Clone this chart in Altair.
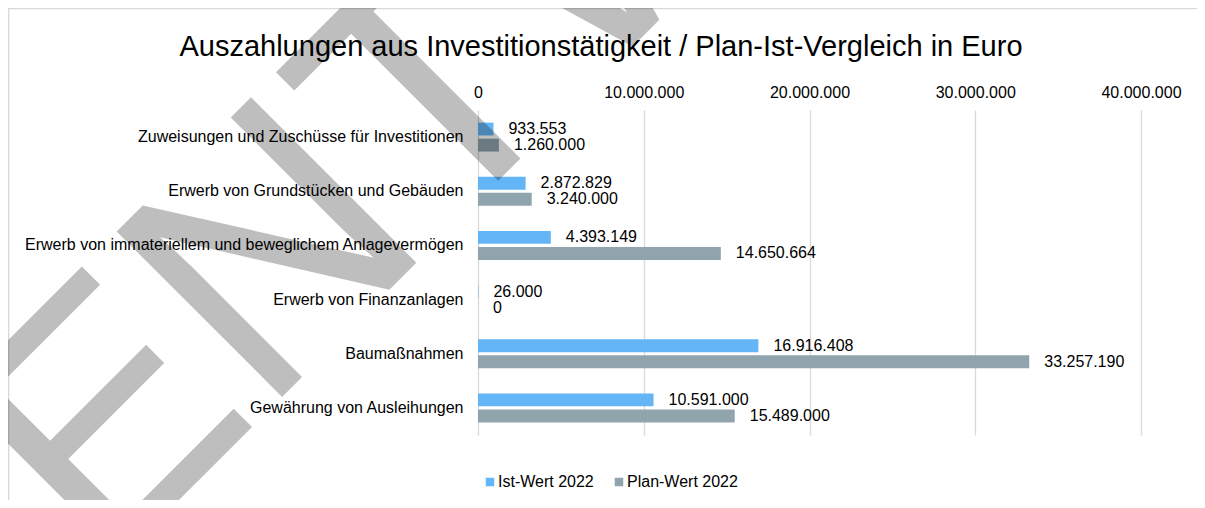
import altair as alt
import pandas as pd

categories = [
    "Zuweisungen und Zuschüsse für Investitionen",
    "Erwerb von Grundstücken und Gebäuden",
    "Erwerb von immateriellem und beweglichem Anlagevermögen",
    "Erwerb von Finanzanlagen",
    "Baumaßnahmen",
    "Gewährung von Ausleihungen",
]
series = ["Ist-Wert 2022", "Plan-Wert 2022"]
ist_values = [933553, 2872829, 4393149, 26000, 16916408, 10591000]
plan_values = [1260000, 3240000, 14650664, 0, 33257190, 15489000]
x_ticks = [0, 10000000, 20000000, 30000000, 40000000]
colors = ["#64b5f6", "#90a4ae"]
title_text = "Auszahlungen aus Investitionstätigkeit / Plan-Ist-Vergleich in Euro"
watermark_text = "ENTWURF"


def de_format(v):
    return f"{v:,}".replace(",", ".")


rows = []
for cat, iv, pv in zip(categories, ist_values, plan_values):
    rows.append({"Kategorie": cat, "Serie": series[0], "Wert": iv, "Label": de_format(iv)})
    rows.append({"Kategorie": cat, "Serie": series[1], "Wert": pv, "Label": de_format(pv)})
df = pd.DataFrame(rows)

FONT = "Liberation Sans"

y_enc = alt.Y(
    "Kategorie:N",
    sort=categories,
    scale=alt.Scale(paddingInner=0.465, paddingOuter=0.2325),
    axis=alt.Axis(
        title=None, domain=False, ticks=False, labelPadding=15,
        labelFontSize=16, labelFont=FONT, labelColor="#000000", labelLimit=600,
    ),
)
yoff_enc = alt.YOffset("Serie:N", sort=series, scale=alt.Scale(paddingInner=0.2, paddingOuter=0))
x_enc = alt.X(
    "Wert:Q",
    scale=alt.Scale(domain=[0, 40000000], nice=False),
    axis=alt.Axis(
        title=None, orient="top", values=x_ticks, domain=False, ticks=False,
        grid=True, gridColor="#d9d9d9", gridWidth=1.3, labelPadding=10,
        labelFlush=False, labelFontSize=16, labelFont=FONT, labelColor="#000000",
        labelExpr="replace(format(datum.value, ',d'), regexp(',', 'g'), '.')",
    ),
)

# chart-area frame (top and left edges visible in the reference)
frame_top = alt.Chart(pd.DataFrame({"f": [0]})).mark_rule(
    color="#d9d9d9", strokeWidth=1.3
).encode(x=alt.value(-470), x2=alt.value(719), y=alt.value(-101.3))
frame_left = alt.Chart(pd.DataFrame({"f": [0]})).mark_rule(
    color="#d9d9d9", strokeWidth=1.3
).encode(x=alt.value(-469.3), y=alt.value(-102), y2=alt.value(390))

bars = alt.Chart(df).mark_bar().encode(
    x=x_enc,
    y=y_enc,
    yOffset=yoff_enc,
    color=alt.Color(
        "Serie:N",
        sort=series,
        scale=alt.Scale(domain=series, range=colors),
        legend=alt.Legend(
            title=None, orient="none", direction="horizontal",
            legendX=4, legendY=364, symbolType="square", symbolSize=72,
            symbolStrokeWidth=0, labelFontSize=16, labelFont=FONT,
            labelColor="#000000", labelOffset=0, columnPadding=17, padding=0,
        ),
    ),
)

labels = alt.Chart(df).mark_text(
    align="left", baseline="middle", dx=15, fontSize=16, font=FONT, color="#000000"
).encode(
    x="Wert:Q",
    y=alt.Y("Kategorie:N", sort=categories),
    yOffset=alt.YOffset("Serie:N", sort=series),
    text="Label:N",
)

title = alt.Chart(pd.DataFrame({"t": [title_text]})).mark_text(
    align="center", baseline="alphabetic", fontSize=29, font=FONT, color="#000000"
).encode(
    x=alt.value(123),
    y=alt.value(-54),
    text="t:N",
)

watermark = alt.Chart(pd.DataFrame({"w": [watermark_text]})).mark_text(
    align="left", baseline="alphabetic", angle=315, fontSize=340, font=FONT,
    color="#000000", opacity=0.25,
).encode(
    x=alt.value(-376),
    y=alt.value(467),
    text="w:N",
)

chart = alt.layer(frame_top, frame_left, bars, labels, title, watermark).properties(
    width=663,
    height=325,
    autosize=alt.AutoSizeParams(type="none"),
    padding={"left": 470, "top": 102, "right": 56, "bottom": 65},
).configure_view(stroke=None)

chart.save("out.html", embed_options={"renderer": "svg", "actions": False})
